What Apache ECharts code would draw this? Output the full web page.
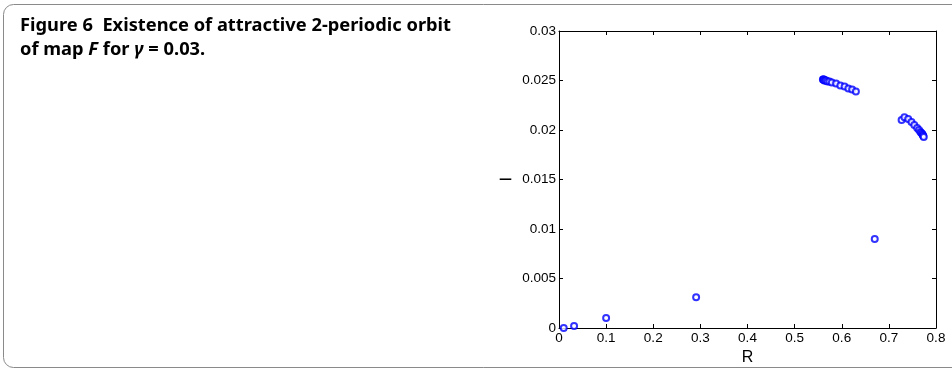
<!DOCTYPE html>
<html>
<head>
<meta charset="utf-8">
<script src="https://cdn.jsdelivr.net/npm/echarts@6/dist/echarts.min.js"></script>
<style>html,body{margin:0;padding:0;background:#fff;}#c{width:952px;height:371px;}</style>
</head>
<body>
<div id="c"></div>
<script>
// R values (x) and orbit values (y)
var rValues = [0.010, 0.032, 0.100, 0.291, 0.670,
  0.560, 0.561, 0.562, 0.563, 0.565, 0.567, 0.570, 0.574, 0.579, 0.588, 0.597, 0.606, 0.614, 0.622, 0.630,
  0.727, 0.733, 0.741, 0.748, 0.754, 0.760, 0.764, 0.767, 0.769, 0.771, 0.772, 0.773, 0.774];
var yValues = [0.0000, 0.0002, 0.0010, 0.0031, 0.0090,
  0.0251, 0.0251, 0.0251, 0.0250, 0.0250, 0.0250, 0.0249, 0.0249, 0.0248, 0.0247, 0.0245, 0.0244, 0.0242, 0.0241, 0.0239,
  0.0210, 0.0213, 0.0211, 0.0208, 0.0205, 0.0202, 0.0200, 0.0198, 0.0197, 0.0196, 0.0195, 0.0194, 0.0193];
var xTicks = {min: 0, max: 0.8, interval: 0.1};
var yTicks = {min: 0, max: 0.03, interval: 0.005};

var pts = rValues.map(function (r, i) { return [r, yValues[i]]; });
var chart = echarts.init(document.getElementById('c'), null, {renderer: 'canvas'});
var axisFont = {fontFamily: 'Liberation Sans, Arial, sans-serif', fontSize: 13.5, color: '#000'};
var lineStyle = {color: '#000', width: 1};
chart.setOption({
  animation: false,
  backgroundColor: '#fff',
  grid: {left: 559, right: 16, top: 31, bottom: 43, containLabel: false},
  xAxis: [{
    type: 'value', min: xTicks.min, max: xTicks.max, interval: xTicks.interval, position: 'bottom',
    name: 'R', nameLocation: 'middle', nameGap: 19,
    nameTextStyle: {fontFamily: 'Liberation Sans, Arial, sans-serif', fontSize: 16, color: '#000'},
    axisLine: {show: true, onZero: false, lineStyle: lineStyle},
    axisTick: {show: true, inside: true, length: 4, lineStyle: lineStyle},
    axisLabel: Object.assign({margin: 3}, axisFont),
    splitLine: {show: false}
  }, {
    type: 'value', min: xTicks.min, max: xTicks.max, interval: xTicks.interval, position: 'top',
    axisLine: {show: true, onZero: false, lineStyle: lineStyle},
    axisTick: {show: true, inside: true, length: 4, lineStyle: lineStyle},
    axisLabel: {show: false}, splitLine: {show: false}
  }],
  yAxis: [{
    type: 'value', min: yTicks.min, max: yTicks.max, interval: yTicks.interval, position: 'left',
    name: '\u2014', nameLocation: 'middle', nameGap: 47, nameRotate: 0,
    nameTextStyle: {fontFamily: 'DejaVu Sans, sans-serif', fontSize: 13, fontWeight: 'bold', color: '#000'},
    axisLine: {show: true, onZero: false, lineStyle: lineStyle},
    axisTick: {show: true, inside: true, length: 4, lineStyle: lineStyle},
    axisLabel: Object.assign({margin: 3}, axisFont),
    splitLine: {show: false}
  }, {
    type: 'value', min: yTicks.min, max: yTicks.max, interval: yTicks.interval, position: 'right',
    axisLine: {show: true, onZero: false, lineStyle: lineStyle},
    axisTick: {show: true, inside: true, length: 4, lineStyle: lineStyle},
    axisLabel: {show: false}, splitLine: {show: false}
  }],
  series: [{
    type: 'scatter', xAxisIndex: 0, yAxisIndex: 0,
    data: pts, symbol: 'emptyCircle', symbolSize: 6,
    itemStyle: {color: '#0000ff', borderColor: '#0000ff', borderWidth: 0.9},
    clip: false
  }],
  graphic: [{
    type: 'rect', z: -1, silent: true,
    shape: {x: 3.5, y: 4.5, width: 1000, height: 363, r: 10},
    style: {fill: 'none', stroke: '#8a8a8a', lineWidth: 1}
  }, {
    type: 'text', left: 20, top: 17,
    style: {
      text: '{b|Figure 6  Existence of attractive 2-periodic orbit}\n{b|of map }{bi|F}{b| for }{bi|\u03b3}{b| = 0.03.}',
      rich: {
        b: {fontFamily: 'Noto Sans, sans-serif', fontWeight: 'bold', fontSize: 18.3, lineHeight: 24, fill: '#000'},
        bi: {fontFamily: 'Noto Sans, sans-serif', fontWeight: 'bold', fontStyle: 'italic', fontSize: 18.3, lineHeight: 24, fill: '#000'}
      }
    }
  }]
});
</script>
</body>
</html>
